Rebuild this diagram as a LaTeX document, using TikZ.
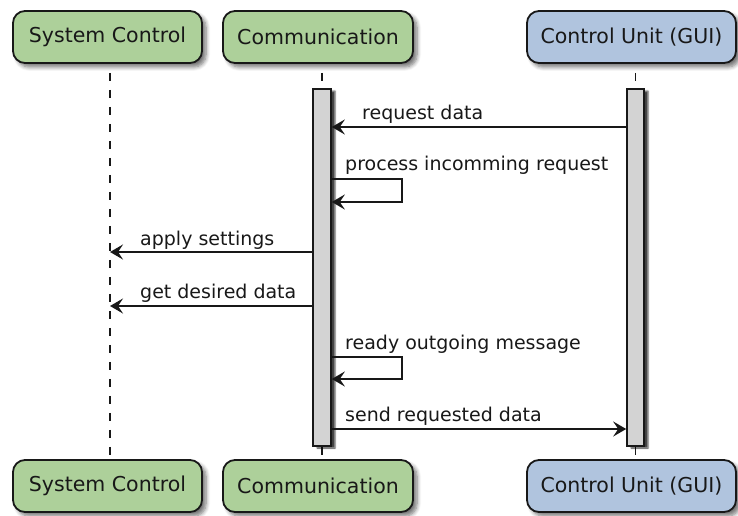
\documentclass[tikz,border=0pt]{standalone}
\usepackage{fontspec}
\setmainfont{DejaVu Sans}
\usetikzlibrary{arrows.meta,shadows.blur,calc}
\definecolor{partgreen}{HTML}{ADD09A}
\definecolor{partblue}{HTML}{B0C4DE}
\definecolor{barfill}{HTML}{D3D3D3}
\definecolor{ink}{HTML}{181818}
\begin{document}
\begin{tikzpicture}[x=1pt,y=-1pt,
  part/.style={draw=ink, line width=1.8pt, rounded corners=12pt,
    minimum height=52pt, inner sep=0pt, text=ink,
    font=\fontsize{20.5}{24}\selectfont,
    blur shadow={shadow xshift=4pt, shadow yshift=-4pt, shadow blur steps=6,
      shadow blur radius=4pt, shadow opacity=55}},
  actbar/.style={draw=ink, line width=1.6pt, fill=barfill, inner sep=0pt,
    blur shadow={shadow xshift=4pt, shadow yshift=-2pt, shadow blur steps=3,
      shadow blur radius=1.5pt, shadow opacity=75}},
  life/.style={draw=ink, line width=1.2pt, dash pattern=on 8pt off 9pt, dash phase=-9pt},
  msg/.style={draw=ink, line width=2.3pt,
    -{Stealth[length=13pt, width=15pt, inset=5pt]}},
  lbl/.style={anchor=base west, inner sep=0pt, text=ink,
    font=\fontsize{19}{22}\selectfont}]
\useasboundingbox (0,0) rectangle (738,516);

% participant heads and feet
\node[part, fill=partgreen, minimum width=189pt] (sctop) at (107.5,37) {System Control};
\node[part, fill=partgreen, minimum width=190pt] (cmtop) at (318,37) {Communication};
\node[part, fill=partblue, minimum width=209pt] (cutop) at (631.5,37) {Control Unit (GUI)};
\node[part, fill=partgreen, minimum width=189pt] (scbot) at (107.5,486) {System Control};
\node[part, fill=partgreen, minimum width=190pt] (cmbot) at (318,486) {Communication};
\node[part, fill=partblue, minimum width=209pt] (cubot) at (631.5,486) {Control Unit (GUI)};

% lifeline positions
\coordinate (scx) at (110,0);
\coordinate (cmx) at (322,0);
\coordinate (cux) at (635.5,0);

% lifelines
\draw[life] (sctop.south -| scx) -- (scbot.north -| scx);
\draw[life] (cmtop.south -| cmx) -- (cmbot.north -| cmx);
\draw[life] (cutop.south -| cux) -- (cubot.north -| cux);

% activation bars
\node[actbar, minimum width=18pt, minimum height=357pt] (cmbar) at (322,267.5) {};
\node[actbar, minimum width=17pt, minimum height=357pt] (cubar) at (635.5,267.5) {};

% message rows
\coordinate (r1) at (0,127);
\coordinate (r2a) at (0,179);
\coordinate (r2b) at (0,202);
\coordinate (r3) at (0,252);
\coordinate (r4) at (0,306);
\coordinate (r5a) at (0,357);
\coordinate (r5b) at (0,379);
\coordinate (r6) at (0,429);
\coordinate (loopx) at (402,0);

% messages
\draw[msg] (cubar.west |- r1) -- (cmbar.east |- r1);
\node[lbl] (l1) at (362,119) {request data};

\draw[msg] (cmbar.east |- r2a) -- (loopx |- r2a) -- (loopx |- r2b) -- (cmbar.east |- r2b);
\node[lbl] (l2) at (345,170) {process incomming request};

\draw[msg] (cmbar.west |- r3) -- (scx |- r3);
\node[lbl] (l3) at (140,245) {apply settings};

\draw[msg] (cmbar.west |- r4) -- (scx |- r4);
\node[lbl] (l4) at (140,298) {get desired data};

\draw[msg] (cmbar.east |- r5a) -- (loopx |- r5a) -- (loopx |- r5b) -- (cmbar.east |- r5b);
\node[lbl] (l5) at (345,349) {ready outgoing message};

\draw[msg] (cmbar.east |- r6) -- (cubar.west |- r6);
\node[lbl] (l6) at (345,421) {send requested data};
\end{tikzpicture}
\end{document}
